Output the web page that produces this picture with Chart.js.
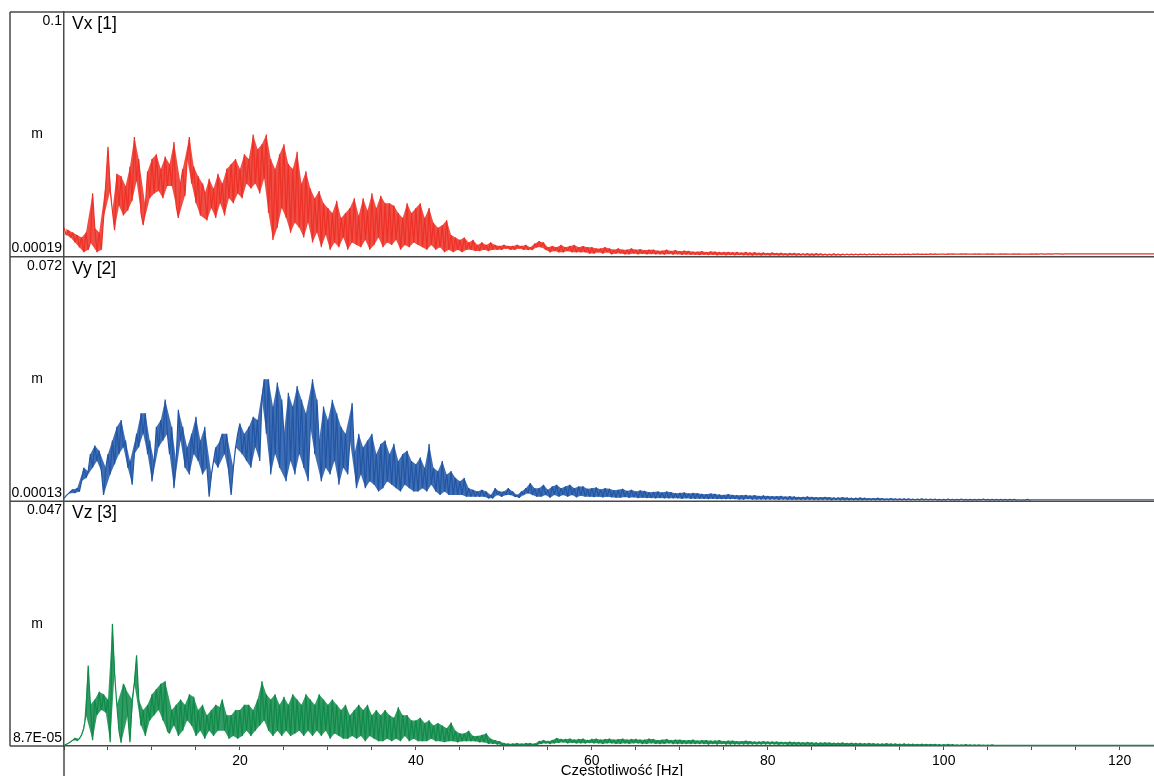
<!DOCTYPE html>
<html><head><meta charset="utf-8">
<script src="https://cdn.jsdelivr.net/npm/chart.js@4.4.1/dist/chart.umd.min.js"></script>
<style>html,body{margin:0;padding:0;background:#fff;overflow:hidden}canvas{display:block}</style>
</head><body>
<canvas id="c" width="1154" height="776"></canvas>
<script>
// ---- data (spectrum amplitudes in mm, one bin every 0.25 Hz starting at 0 Hz) ----
const FREQ_STEP_HZ = 0.25;
const X_MIN_HZ = 0;
const X_MAX_HZ = 123.9;
const xTickLabels = ['20', '40', '60', '80', '100', '120'];
const xAxisTitle = 'Częstotliwość [Hz]';
const panelTitles = ['Vx [1]', 'Vy [2]', 'Vz [3]'];
const unitLabel = 'm';
const axisTopValues = [0.1, 0.072, 0.047];
const axisBottomValues = [0.00019, 0.00013, 0.000087];
const axisTopLabels = ['0.1', '0.072', '0.047'];
const axisBottomLabels = ['0.00019', '0.00013', '8.7E-05'];

const vxMm = [
12,9,11,8, 10,6,9,4, 8,2,10,3, 6,26,12,2, 10,3,16,30,
45,27,19,11, 34,21,33,17, 29,19,37,23, 49,31,40,18, 13,21,35,24,
40,26,42,27, 36,24,41,29, 38,29,47,21, 16,30,36,25, 40,49,30,37,
22,33,17,30, 26,15,32,20, 28,16,34,22, 30,17,36,24, 38,22,40,26,
36,24,42,30, 40,28,50,30, 44,26,46,32, 50,18,40,7, 36,12,42,20,
46,16,38,10, 36,14,43,12, 30,8,35,14, 28,6,24,10, 27,4,22,9,
20,3,18,6, 23,4,16,8, 18,3,20,6, 24,5,17,4, 24,7,19,3,
26,5,20,8, 25,4,22,6, 22,5,21,7, 18,3,16,5, 22,4,18,6,
20,5,22,4, 16,3,20,5, 14,3,12,4, 13,2,15,3, 9,2,8,3,
7,2,8,3, 6,3,7,2.5, 5,2.5,6,3, 5,2.5,6,3, 5,3,4.5,3,
5,3.5,4.5,3, 4.5,3,5,3.5, 4.5,3,5,3, 4,3,5.5,4, 6.5,4,6,3,
4,2,4.5,2.5, 4,2,5,2, 4,2.5,4.5,2, 5,2,4,2, 4.5,2,4,1.5,
4,1.5,3.5,2, 3.5,1.5,4,2, 3.5,1.2,3,1.5, 3.5,1.5,3,1.2, 3,1.2,3.5,1.5,
3,1.2,3.2,1.4, 2.8,1.2,3,1.3, 3,1.2,2.6,1.2, 2.6,1.1,3,1.3, 2.5,1.1,2.8,1.2,
2.4,1,2.6,1.1, 2.5,1,2.2,1, 2.2,0.9,2.4,1, 2,0.9,2.3,1, 2.2,0.8,2,0.9,
2,0.8,2.1,0.9, 1.9,0.8,2,0.9, 1.8,0.8,2,0.8, 1.8,0.7,1.9,0.8, 1.7,0.7,1.8,0.8,
1.6,0.7,1.8,0.8, 1.6,0.7,1.7,0.8, 1.5,0.7,1.6,0.8, 1.6,0.7,1.5,0.8, 1.4,0.8,1.5,0.7,
1.4,0.7,1.5,0.8, 1.4,0.8,1.3,0.8, 1.3,0.8,1.4,0.8, 1.3,0.8,1.3,0.9, 1.3,0.9,1.2,0.9,
1.3,0.9,1.2,1, 1.2,0.9,1.3,1, 1.2,1,1.3,0.9, 1.3,1,1.2,1, 1.2,1,1.3,1,
1.3,1,1.2,1.1, 1.2,1,1.3,1.1, 1.3,1.1,1.2,1.1, 1.2,1.1,1.3,1.1, 1.3,1.1,1.2,1.2,
1.2,1.1,1.3,1.2, 1.3,1.2,1.2,1.2, 1.3,1.2,1.3,1.2, 1.2,1.2,1.3,1.2, 1.3,1.2,1.2,1.2,
1.3,1.2,1.3,1.2, 1.2,1.2,1.3,1.2, 1.3,1.2,1.2,1.2, 1.3,1.2,1.3,1.2, 1.2,1.2,1.2,1.2,
1.3,1.2,1.3,1.2, 1.3,1.3,1.2,1.3, 1.3,1.2,1.3,1.3, 1.3,1.3,1.2,1.3, 1.3,1.3,1.3,1.3,
1.3,1.3,1.3,1.3, 1.3,1.3,1.3,1.3, 1.3,1.3,1.3,1.3, 1.3,1.3,1.3,1.3, 1.3,1.3,1.3,1.3,
1.3,1.3,1.3,1.3, 1.3,1.3,1.3,1.3, 1.3,1.3,1.3,1.3, 1.3,1.3,1.3,1.3, 1.3
];

const vyMm = [
1,1.8,2.4,3, 3.6,2.6,4,3, 6,10,7,9, 14,10,16.5,12, 15,9,2,10,
14,8,18,11, 22,14,24,16, 18,10,12,5, 14,20,16,26, 20,26,14,18,
6,12,22,16, 24,18,30,20, 14,22,4,12, 27,18,22,10, 16,8,20,14,
25,12,18,8, 22,10,1.5,8, 12,16,10,18, 20,14,20,8, 2,10,16,20,
23,14,20,12, 22,10,25,16, 24,12,30,36, 20,36,8,28, 14,35,10,30,
20,6,32,12, 28,8,34,14, 30,10,26,6, 22,36,14,30, 18,6,28,10,
24,8,30,12, 26,5,22,10, 20,8,18,29, 14,4,20,8, 16,4,18,6,
20,5,14,3, 17,4,18,6, 14,5,17,4, 12,3,14,5, 15,4,12,3,
11,3,13,4, 10,3,17,5, 10,3,9,2, 12,3,8,2, 9,2,7,2,
6,2,7,1.5, 4,1.5,3.5,1.5, 3,1.5,3.5,1.5, 3,1,2,1, 4,2,3,1.5,
3,2,4,2, 3,1.5,2,1.2, 3,2,4,2.5, 5.5,2,4,1.5, 4,1.5,5,2,
3.5,1.2,4.5,2, 5,1.5,4,2, 4.5,1.5,5,2, 4,1.3,4.5,1.8, 4.5,1.5,3.8,1.5,
4,1.4,4.2,1.5, 3.6,1.3,4,1.5, 3.8,1.3,3.4,1.2, 3.5,1.2,3.8,1.4, 3.2,1.2,3.5,1.3,
3,1.1,3.3,1.2, 3.2,1.1,2.8,1.1, 2.9,1,3,1.1, 2.7,1,3,1, 2.8,1,2.5,1,
2.6,0.9,2.7,1, 2.4,0.9,2.6,0.9, 2.5,0.9,2.3,0.9, 2.2,0.8,2.4,0.9, 2.3,0.8,2.1,0.8,
2,0.8,2.2,0.8, 2,0.8,1.9,0.7, 1.9,0.7,2,0.8, 1.8,0.7,1.9,0.7, 1.7,0.7,1.8,0.7,
1.7,0.7,1.6,0.7, 1.6,0.6,1.7,0.7, 1.5,0.6,1.6,0.6, 1.5,0.6,1.4,0.6, 1.4,0.6,1.5,0.6,
1.4,0.6,1.3,0.6, 1.3,0.6,1.4,0.6, 1.3,0.5,1.2,0.6, 1.2,0.5,1.3,0.5, 1.2,0.5,1.1,0.5,
1.1,0.5,1.2,0.5, 1.1,0.5,1,0.5, 1,0.5,1.1,0.5, 1,0.5,0.9,0.5, 1,0.5,0.9,0.5,
0.9,0.5,0.9,0.5, 0.9,0.5,0.8,0.5, 0.8,0.5,0.9,0.5, 0.8,0.5,0.8,0.5, 0.8,0.5,0.7,0.5,
0.7,0.5,0.8,0.5, 0.7,0.5,0.7,0.5, 0.8,0.5,0.7,0.5, 0.7,0.5,0.7,0.5, 0.7,0.5,0.8,0.5,
0.7,0.5,0.7,0.5, 0.7,0.5,0.7,0.5, 0.7,0.5,0.7,0.5, 0.7,0.5,0.6,0.5, 0.6,0.5,0.7,0.5,
0.6,0.6,0.6,0.6, 0.6,0.6,0.6,0.6, 0.6,0.6,0.6,0.6, 0.6,0.6,0.6,0.6, 0.6,0.6,0.6,0.6,
0.6,0.6,0.6,0.6, 0.6,0.6,0.6,0.6, 0.6,0.6,0.6,0.6, 0.6,0.6,0.6,0.6, 0.6,0.6,0.6,0.6,
0.6,0.6,0.6,0.6, 0.6,0.6,0.6,0.6, 0.6,0.6,0.6,0.6, 0.6,0.6,0.6,0.6, 0.6
];

const vzMm = [
0.2,0.4,0.6,0.9, 1.2,1.6,1.1,1.5, 2.2,3.5,6,15.5, 8,1.2,9,6, 10.5,7,10,6.5,
9,0.8,23.5,14, 8,3,0.7,12, 11,6,0.8,9, 12,17.5,9,4, 7,2,8,5,
10,6,11,7, 12,5,12.5,3, 2.5,7,4,8, 2,9,3,8, 5,10,4,9.5,
2,7,3,8, 1.5,6,3,7, 2,8,3,7.5, 9,3,6,1.5, 6,2,7,1.5,
7,2,8,3, 8,2,7,3, 9,4,12.5,5, 10,3,9,2, 10,3,8,2,
9.5,3,8,2, 10,2.5,9,3, 8,2,10,3, 9,2,8,3, 10,2,9,3,
8,1.5,9,2.5, 8,2,7,1.5, 8,1.5,6,2, 7,1.5,8,2, 7,1,8,2,
6,1.5,7,1, 6,1,7,1.5, 6,1,5.5,1.5, 7.5,1,6,2, 6,1,5,1.5,
5,1,5.5,1, 4.5,1,5,1.5, 4,1,4.5,1, 4,0.8,3.5,1, 4.6,1,3,0.8,
2.5,1,2.5,1, 3,1,2,1, 2,0.8,2.2,0.8, 2.5,0.5,1.5,0.5, 1.2,0.4,1,0.3,
0.6,0.3,0.5,0.2, 0.5,0.3,0.6,0.2, 0.5,0.2,0.6,0.3, 0.6,0.2,0.5,0.3, 1,0.5,1.2,0.6,
1,0.5,1.2,0.6, 1.6,0.7,1.4,0.8, 1.4,0.6,1.5,0.7, 1.3,0.6,1.4,0.6, 1.5,0.6,1.2,0.7,
1.4,0.6,1.5,0.6, 1.3,0.5,1.4,0.6, 1.5,0.6,1.3,0.5, 1.4,0.5,1.5,0.6, 1.3,0.5,1.4,0.6,
1.4,0.6,1.3,0.5, 1.3,0.5,1.5,0.6, 1.4,0.5,1.2,0.5, 1.3,0.5,1.4,0.6, 1.2,0.5,1.3,0.5,
1.3,0.5,1.2,0.5, 1.2,0.5,1.3,0.5, 1.1,0.5,1.2,0.5, 1.2,0.4,1.1,0.5, 1.1,0.4,1.2,0.5,
1,0.4,1.1,0.4, 1.1,0.4,1,0.4, 1,0.4,1.1,0.4, 1,0.4,0.9,0.4, 0.9,0.4,1,0.4,
0.9,0.4,0.9,0.4, 0.9,0.35,0.85,0.4, 0.8,0.35,0.9,0.35, 0.8,0.35,0.8,0.35, 0.75,0.3,0.8,0.35,
0.75,0.3,0.7,0.3, 0.7,0.3,0.75,0.3, 0.7,0.3,0.65,0.3, 0.65,0.3,0.7,0.3, 0.6,0.3,0.65,0.3,
0.6,0.25,0.6,0.25, 0.55,0.25,0.6,0.25, 0.55,0.25,0.5,0.25, 0.5,0.25,0.55,0.25, 0.5,0.2,0.5,0.25,
0.45,0.2,0.5,0.2, 0.45,0.2,0.45,0.2, 0.4,0.2,0.45,0.2, 0.4,0.2,0.4,0.2, 0.4,0.2,0.35,0.2,
0.35,0.2,0.4,0.2, 0.35,0.2,0.3,0.2, 0.3,0.2,0.35,0.2, 0.3,0.2,0.3,0.2, 0.3,0.2,0.25,0.2,
0.25,0.2,0.3,0.2, 0.2,0.2,0.2,0.2, 0.2,0.2,0.2,0.2, 0.2,0.2,0.2,0.2, 0.2,0.2,0.2,0.2,
0.2,0.2,0.2,0.2, 0.2,0.2,0.2,0.2, 0.2,0.2,0.2,0.2, 0.2,0.2,0.2,0.2, 0.2,0.2,0.2,0.2,
0.2,0.2,0.2,0.2, 0.2,0.2,0.2,0.2, 0.2,0.2,0.2,0.2, 0.2,0.2,0.2,0.2, 0.2,0.2,0.2,0.2,
0.2,0.2,0.2,0.2, 0.2,0.2,0.2,0.2, 0.2,0.2,0.2,0.2, 0.2,0.2,0.2,0.2, 0.2
];

// ---- styling ----
const FONT = '"Liberation Sans", Arial, sans-serif';
const FRAME = '#4a4a4a';
const seriesColors = ['#ee3127', '#2156a6', '#0f8a49'];
const bandColors = ['rgba(238,49,39,0.86)', 'rgba(33,86,166,0.86)', 'rgba(15,138,73,0.86)'];
const LEFT_PAD = 10, TOP_PAD = 12, Y_AXIS_W = 54, X_AXIS_H = 30;

Chart.defaults.font.family = FONT;
Chart.defaults.color = '#000';

const axisIds = ['yx', 'yy', 'yz'];
const seriesMm = [vxMm, vyMm, vzMm];
const toPoints = arr => arr.map((v, i) => ({ x: X_MIN_HZ + i * FREQ_STEP_HZ, y: v / 1000 }));
// per pair of neighbouring bins: the larger / smaller value, kept at its own bin frequency
const pairEnvelope = (arr, upper) => {
  const out = [];
  for (let i = 0; i + 1 < arr.length; i += 2) {
    const a = arr[i], b = arr[i + 1];
    const pickFirst = upper ? a >= b : a <= b;
    const j = pickFirst ? i : i + 1;
    out.push({ x: X_MIN_HZ + j * FREQ_STEP_HZ, y: arr[j] / 1000 });
  }
  return out;
};

const datasets = [];
seriesMm.forEach((s, k) => {
  datasets.push({
    label: panelTitles[k] + ' max', data: pairEnvelope(s, true), xAxisID: 'x', yAxisID: axisIds[k],
    borderWidth: 0, borderColor: 'rgba(0,0,0,0)', backgroundColor: bandColors[k],
    pointRadius: 0, tension: 0, fill: '+1', order: 2
  });
  datasets.push({
    label: panelTitles[k] + ' min', data: pairEnvelope(s, false), xAxisID: 'x', yAxisID: axisIds[k],
    borderWidth: 0, borderColor: 'rgba(0,0,0,0)', pointRadius: 0, tension: 0, fill: false, order: 2
  });
  datasets.push({
    label: panelTitles[k], data: toPoints(s), xAxisID: 'x', yAxisID: axisIds[k],
    borderColor: seriesColors[k], borderWidth: 1.2, borderJoinStyle: 'bevel',
    pointRadius: 0, tension: 0, fill: false, order: 1
  });
});

const scales = {
  x: {
    type: 'linear', position: 'bottom', min: X_MIN_HZ, max: X_MAX_HZ,
    grid: { display: true, drawOnChartArea: false, drawTicks: true, tickLength: 4, color: FRAME, lineWidth: 1 },
    border: { display: true, color: FRAME, width: 1.5 },
    ticks: {
      stepSize: 5, autoSkip: false, maxRotation: 0, minRotation: 0, includeBounds: false, maxTicksLimit: 40,
      padding: 3, color: '#000', font: { family: FONT, size: 14 },
      callback: v => xTickLabels.includes(String(v)) ? String(v) : ''
    },
    afterFit: s => { s.height = X_AXIS_H; }
  }
};
axisIds.forEach((id, k) => {
  scales[id] = {
    type: 'linear', position: 'left', stack: 'panels', stackWeight: 1, weight: 3 - k,
    min: axisBottomValues[k], max: axisTopValues[k], offset: false,
    grid: { display: false, drawTicks: false },
    ticks: { display: false },
    border: { display: true, color: FRAME, width: 1.5 },
    afterFit: s => { s.width = Y_AXIS_W; }
  };
});

const frameAndLabels = {
  id: 'frameAndLabels',
  afterDraw(chart) {
    const { ctx } = chart;
    const xs = chart.scales.x;
    const right = chart.width;
    ctx.save();
    ctx.strokeStyle = FRAME;
    ctx.lineWidth = 1.5;
    ctx.beginPath();
    axisIds.forEach(id => {
      const y = chart.scales[id].top;
      ctx.moveTo(LEFT_PAD, y); ctx.lineTo(right, y);
    });
    ctx.moveTo(LEFT_PAD, xs.top); ctx.lineTo(xs.left, xs.top);
    ctx.moveTo(LEFT_PAD, chart.scales.yx.top); ctx.lineTo(LEFT_PAD, xs.top);
    ctx.moveTo(xs.left, xs.top); ctx.lineTo(xs.left, chart.height);
    ctx.stroke();

    ctx.fillStyle = '#000';
    axisIds.forEach((id, k) => {
      const s = chart.scales[id];
      ctx.font = '14px ' + FONT;
      ctx.textAlign = 'right';
      ctx.textBaseline = 'alphabetic';
      ctx.fillText(axisTopLabels[k], s.right - 2, s.top + 13);
      ctx.fillText(axisBottomLabels[k], s.right - 2, s.bottom - 4.5);
      ctx.font = '14px ' + FONT;
      ctx.textAlign = 'center';
      ctx.textBaseline = 'middle';
      ctx.fillText(unitLabel, (LEFT_PAD + s.right) / 2, (s.top + s.bottom) / 2);
      ctx.font = '17.5px ' + FONT;
      ctx.textAlign = 'left';
      ctx.textBaseline = 'alphabetic';
      ctx.fillText(panelTitles[k], xs.left + 8, s.top + 17);
    });
    ctx.font = '15px ' + FONT;
    ctx.textAlign = 'center';
    ctx.textBaseline = 'alphabetic';
    ctx.fillText(xAxisTitle, xs.left + (xs.right - xs.left) / 2 + 13, chart.height - 1);
    ctx.restore();
  }
};

new Chart(document.getElementById('c'), {
  type: 'line',
  data: { datasets },
  options: {
    responsive: false,
    animation: false,
    devicePixelRatio: 1,
    parsing: false,
    normalized: true,
    layout: { padding: { left: LEFT_PAD, top: TOP_PAD, right: 0, bottom: 0 } },
    plugins: { legend: { display: false }, tooltip: { enabled: false }, title: { display: false }, filler: { propagate: false } },
    scales
  },
  plugins: [frameAndLabels]
});
</script>
</body></html>
